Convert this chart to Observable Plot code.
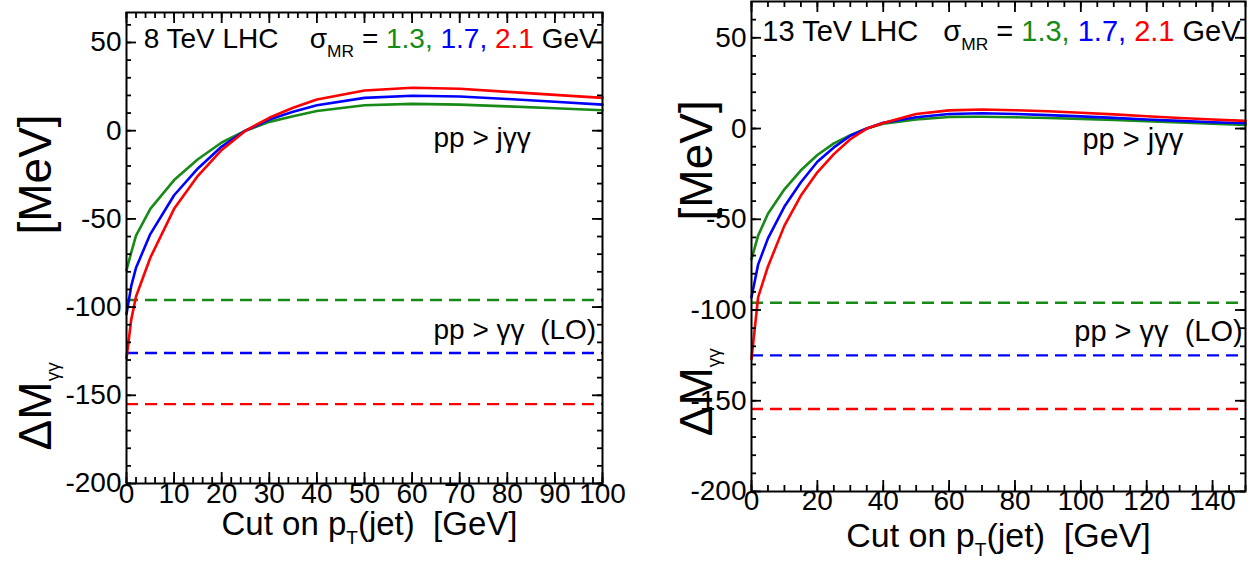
<!DOCTYPE html>
<html>
<head>
<meta charset="utf-8">
<script src="https://cdn.jsdelivr.net/npm/d3@7"></script>
<script src="https://cdn.jsdelivr.net/npm/@observablehq/plot@0.6"></script>
<style>
  html, body { margin: 0; padding: 0; background: #fff; }
  #chart { position: relative; width: 1253px; height: 565px; overflow: hidden;
           font-family: "Liberation Sans", Arial, Helvetica, sans-serif; }
  #chart svg { position: absolute; top: 0; overflow: visible; }
</style>
</head>
<body>
<div id="chart"></div>
<script>
// Mass-resolution widths and their line colours
const sigmas = ["1.3", "1.7", "2.1"];
const sigmaColors = ["#178a17", "#0000ff", "#ff0000"];

// 8 TeV LHC: mass shift vs. jet pT cut (pp > j γγ)
const ptCut8 = [0, 1, 2, 5, 10, 15, 20, 25, 30, 35, 40, 50, 60, 70, 80, 90, 100];
const shift8_s13 = [-79, -69, -59.5, -44.3, -28, -16.2, -6.7, 0, 5, 8.2, 11.2, 14.4, 15.2, 14.8, 13.8, 12.7, 11.6];
const shift8_s17 = [-104, -88, -77.7, -58.6, -36.6, -21.4, -9, 0, 6.3, 10.7, 14.4, 18.6, 19.8, 19.4, 18, 16.4, 14.8];
const shift8_s21 = [-129, -107, -94, -72, -44.3, -25.6, -10.9, 0, 7.3, 13, 17.7, 22.8, 24.3, 23.8, 22, 20.3, 18.6];
// 8 TeV LO (pp > γγ) shifts
const lo8 = [-96, -126, -155];

// 13 TeV LHC
const ptCut13 = [0, 2, 5, 10, 15, 20, 25, 30, 35, 40, 50, 60, 70, 80, 90, 100, 110, 120, 130, 140, 150];
const shift13_s13 = [-72, -59, -47, -33.5, -23, -14.6, -8.2, -3.7, 0, 2.7, 5, 6.4, 6.5, 6.2, 5.8, 5.3, 4.7, 4.0, 3.3, 2.6, 2.0];
const shift13_s17 = [-93, -75, -60.5, -43, -29.6, -18.3, -10.4, -4, 0, 3.2, 6.2, 8.0, 8.4, 8.0, 7.4, 6.7, 5.9, 5.0, 4.2, 3.5, 2.9];
const shift13_s21 = [-127, -93, -76, -53.5, -36.9, -24.1, -14.1, -5.9, 0, 3, 8, 10, 10.5, 10.1, 9.5, 8.7, 7.8, 6.8, 5.8, 5.0, 4.2];
const lo13 = [-96, -125, -154.5];

// Axis ticks
const yMajor = [-200, -150, -100, -50, 0, 50];
const yMinor = d3.range(-200, 61, 10);
const xMajor8 = d3.range(0, 101, 10);
const xMinor8 = d3.range(0, 101, 2);
const xMajor13 = d3.range(0, 141, 20);
const xMinor13 = d3.range(0, 151, 5);

const yLabel = "ΔMγγ          [MeV]";
const xLabel = "Cut on pT(jet)  [GeV]";
const sigmaLabel = "σMR = 1.3, 1.7, 2.1 GeV";

function panel(cfg) {
  const {left, width, height, mL, mR, mT, mB, xMax, yMax, xMajor, xMinor,
         pt, series, lo, energy, notes, textSize} = cfg;
  const innerW = width - mL - mR, innerH = height - mT - mB;
  const rows = sigmas.flatMap((s, k) => pt.map((x, i) => ({pt: x, dm: series[k][i], sigma: s})));
  const loRows = sigmas.map((s, k) => ({sigma: s, dm: lo[k]}));
  const tick = {stroke: "black", strokeWidth: 1.8};
  const svg = Plot.plot({
    width, height,
    marginLeft: mL, marginRight: mR, marginTop: mT, marginBottom: mB,
    x: {domain: [0, xMax], axis: null},
    y: {domain: [-200, yMax], axis: null},
    color: {domain: sigmas, range: sigmaColors},
    style: {background: "transparent", overflow: "visible",
            fontFamily: "Liberation Sans, Arial, sans-serif", fontSize: "28px", color: "black"},
    marks: [
      Plot.ruleY(loRows, {y: "dm", stroke: "sigma", strokeWidth: 2.4, strokeDasharray: "12,7"}),
      Plot.line(rows, {x: "pt", y: "dm", z: "sigma", stroke: "sigma", strokeWidth: 2.6}),
      // inward ticks on all four sides
      Plot.tickY(yMinor, {y: d => d, insetRight: innerW - 5, ...tick}),
      Plot.tickY(yMajor, {y: d => d, insetRight: innerW - 10, ...tick}),
      Plot.tickY(yMinor, {y: d => d, insetLeft: innerW - 5, ...tick}),
      Plot.tickY(yMajor, {y: d => d, insetLeft: innerW - 10, ...tick}),
      Plot.tickX(xMinor, {x: d => d, insetTop: innerH - 6, ...tick}),
      Plot.tickX(xMajor, {x: d => d, insetTop: innerH - 11, ...tick}),
      Plot.tickX(xMinor, {x: d => d, insetBottom: innerH - 6, ...tick}),
      Plot.tickX(xMajor, {x: d => d, insetBottom: innerH - 11, ...tick}),
      Plot.frame({stroke: "black", strokeWidth: 2}),
      // tick labels
      Plot.text(yMajor, {y: d => d, frameAnchor: "left", text: d => String(d), textAnchor: "end", dx: -5, fontSize: 28}),
      Plot.text(xMajor, {x: d => d, frameAnchor: "bottom", text: d => String(d), dy: cfg.xTickDy, fontSize: 28}),
      // axis titles
      Plot.text([yLabel], {x: cfg.yLabelX, y: cfg.yLabelY, text: d => d, rotate: -90, fontSize: 46}),
      Plot.text([xLabel], {frameAnchor: "bottom", text: d => d, dx: cfg.xLabelDx, dy: cfg.xLabelDy, fontSize: cfg.xLabelSize}),
      // annotations
      Plot.text([energy.text], {x: energy.x, y: energy.y, text: d => d, textAnchor: "start", fontSize: textSize}),
      Plot.text([sigmaLabel], {x: cfg.sigmaX, y: energy.y, text: d => d, textAnchor: "end", fontSize: textSize}),
      ...notes.map(n => Plot.text([n.text], {x: n.x, y: n.y, text: d => d, textAnchor: "start", fontSize: textSize}))
    ]
  });
  svg.style.left = left + "px";
  richText(svg, yLabel, [{t: "ΔM"}, {t: "γγ", sub: true}, {t: "          [MeV]"}], 0.68, 0.3);
  richText(svg, xLabel, [{t: "Cut on p"}, {t: "T", sub: true}, {t: "(jet)  [GeV]"}], 0.68, 0.33);
  richText(svg, sigmaLabel, [{t: "σ"}, {t: "MR", sub: true}, {t: " = "},
    {t: "1.3, ", fill: sigmaColors[0]}, {t: "1.7, ", fill: sigmaColors[1]},
    {t: "2.1", fill: sigmaColors[2]}, {t: " GeV"}], 0.62, 0.33);
  document.getElementById("chart").appendChild(svg);
}

// Rebuild a plain text label as tspans with subscripts and coloured runs
function richText(svg, content, parts, subScale, subDrop) {
  d3.select(svg).selectAll("text")
    .filter(function () { return this.textContent === content; })
    .each(function () {
      const t = d3.select(this);
      const size = parseFloat(t.attr("font-size")) || 28;
      const drop = size * subDrop;
      t.text(null);
      let shift = 0;
      for (const p of parts) {
        const ts = t.append("tspan").text(p.t);
        if (p.fill) ts.attr("fill", p.fill);
        const target = p.sub ? drop : 0;
        if (target !== shift) { ts.attr("dy", target - shift); shift = target; }
        if (p.sub) ts.attr("font-size", size * subScale);
      }
    });
}

panel({
  left: 0, width: 620, height: 565, mL: 126, mR: 18, mT: 12, mB: 82,
  xMax: 100, yMax: 67, xMajor: xMajor8, xMinor: xMinor8,
  pt: ptCut8, series: [shift8_s13, shift8_s17, shift8_s21], lo: lo8,
  yLabelX: -19, yLabelY: -86, xTickDy: 19, xLabelDx: 5, xLabelDy: 51, xLabelSize: 33,
  sigmaX: 99, textSize: 28,
  energy: {text: "8 TeV LHC", x: 3.6, y: 52.1},
  notes: [{text: "pp > jγγ", x: 64.5, y: -4}, {text: "pp > γγ  (LO)", x: 64.5, y: -113}]
});

panel({
  left: 620, width: 633, height: 565, mL: 131, mR: 8, mT: 1, mB: 74,
  xMax: 150, yMax: 70, xMajor: xMajor13, xMinor: xMinor13,
  pt: ptCut13, series: [shift13_s13, shift13_s17, shift13_s21], lo: lo13,
  yLabelX: -16.5, yLabelY: -77, xTickDy: 18, xLabelDx: 0, xLabelDy: 55, xLabelSize: 34,
  sigmaX: 148.5, textSize: 29,
  energy: {text: "13 TeV LHC", x: 3.3, y: 53.5},
  notes: [{text: "pp > jγγ", x: 100.5, y: -6}, {text: "pp > γγ  (LO)", x: 98, y: -112}]
});
</script>
</body>
</html>
